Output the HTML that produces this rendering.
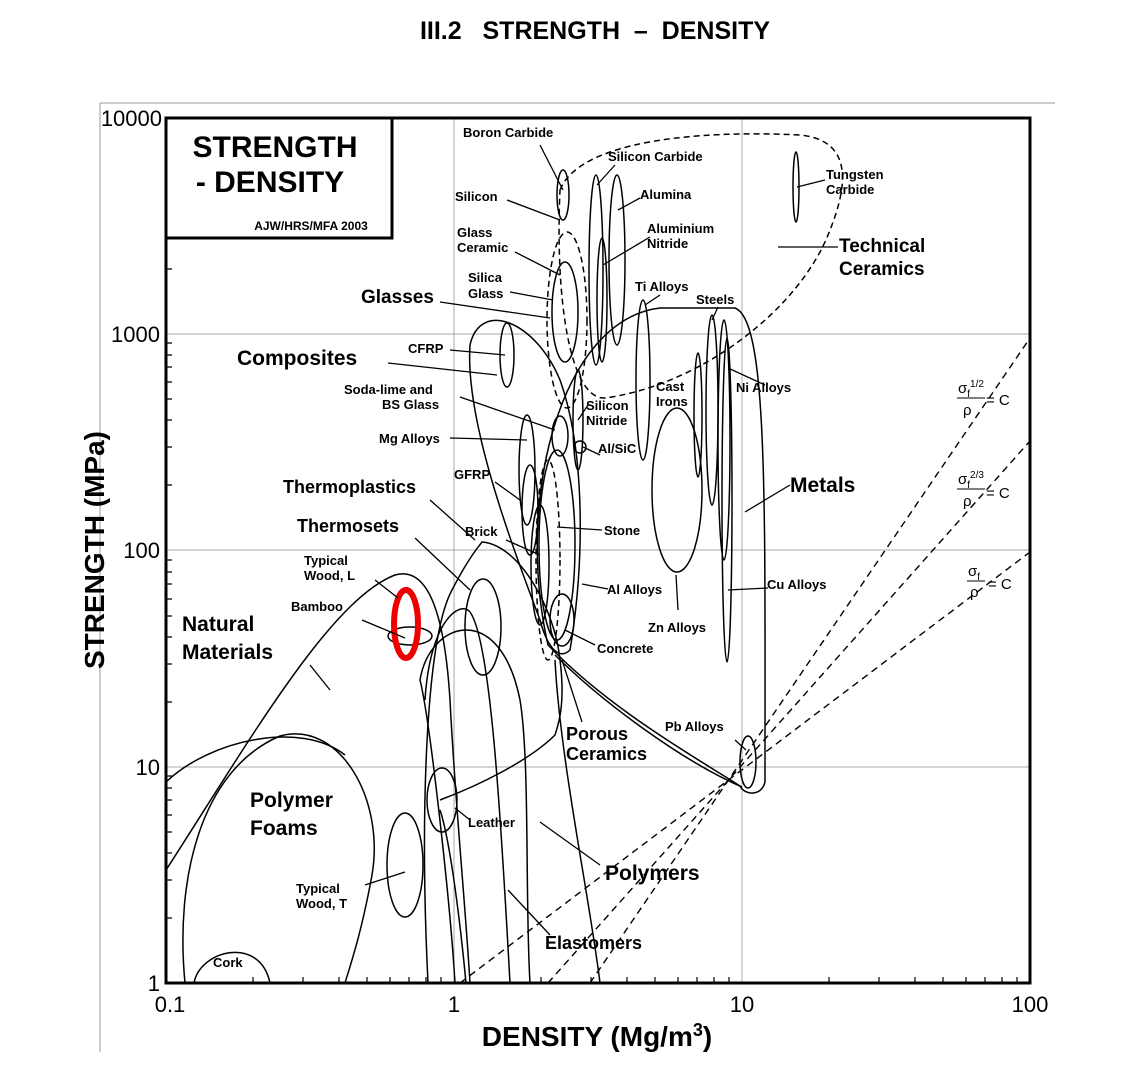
<!DOCTYPE html>
<html><head><meta charset="utf-8"><style>
html,body{margin:0;padding:0;background:#fff;}
svg{display:block;font-family:"Liberation Sans",Arial,sans-serif;}
.s{font-size:13px;font-weight:bold;}
.b{font-size:21px;font-weight:bold;}
.m{font-size:18px;font-weight:bold;}
.ax{font-size:22px;}
</style></head><body>
<svg width="1145" height="1080" viewBox="0 0 1145 1080" xmlns="http://www.w3.org/2000/svg">
<rect width="1145" height="1080" fill="#fff"/>
<text x="595" y="39" text-anchor="middle" font-size="25" font-weight="bold" style="white-space:pre" xml:space="preserve">III.2   STRENGTH  –  DENSITY</text>
<line x1="100" y1="103" x2="1055" y2="103" stroke="#999" stroke-width="1"/>
<line x1="100" y1="103" x2="100" y2="1052" stroke="#999" stroke-width="1"/>
<g stroke="#aaa" stroke-width="1">
<line x1="454" y1="118" x2="454" y2="983"/><line x1="742" y1="118" x2="742" y2="983"/>
<line x1="166" y1="334" x2="1030" y2="334"/><line x1="166" y1="550" x2="1030" y2="550"/><line x1="166" y1="767" x2="1030" y2="767"/>
</g>
<g stroke="#000" stroke-width="1.2">
<path d="M166,918h6M166,880h6M166,853h6M166,832h6M166,815h6M166,800h6M166,788h6M166,776h6
M166,702h6M166,664h6M166,637h6M166,616h6M166,599h6M166,584h6M166,572h6M166,560h6
M166,485h6M166,447h6M166,420h6M166,399h6M166,382h6M166,367h6M166,355h6M166,343h6
M166,269h6M166,231h6M166,204h6M166,183h6M166,166h6M166,151h6M166,139h6M166,127h6"/>
<path d="M253,983v-6M303,983v-6M339,983v-6M367,983v-6M390,983v-6M409,983v-6M426,983v-6M441,983v-6
M541,983v-6M591,983v-6M627,983v-6M655,983v-6M678,983v-6M697,983v-6M714,983v-6M729,983v-6
M829,983v-6M879,983v-6M915,983v-6M943,983v-6M966,983v-6M985,983v-6M1002,983v-6M1017,983v-6"/>
</g>
<g stroke="#000" stroke-width="1.4" stroke-dasharray="7,5" fill="none">
<line x1="460" y1="983" x2="1030" y2="552"/>
<line x1="548" y1="983" x2="1030" y2="441"/>
<line x1="590" y1="983" x2="1030" y2="338"/>
</g>
<g fill="none" stroke="#000" stroke-width="1.5">
<path d="M194,983 C200,950 260,935 270,983"/>
<path d="M185,983 C175,880 200,770 280,736 C340,720 385,800 372,875 C362,930 352,960 345,983"/>
<path d="M166,782 C210,740 300,720 345,755"/>
<path d="M166,870 C250,740 330,600 395,575 C430,565 445,620 450,700 C455,800 465,900 470,983"/>
<path d="M428,983 C420,820 425,640 452,590 C470,555 480,545 482,542 C520,545 555,610 560,660 C565,700 560,720 555,735 C530,760 480,785 440,800"/>
<path d="M600,983 C590,900 560,760 555,660"/>
<path d="M425,700 C430,620 460,600 470,612 C490,640 500,800 510,983"/>
<path d="M466,983 C460,920 450,840 440,810"/>
<ellipse cx="483" cy="627" rx="18" ry="48"/>
<path d="M455,983 C450,900 430,720 420,680 C430,620 500,600 520,700 C530,760 525,900 530,983" />
<ellipse cx="442" cy="800" rx="15" ry="32"/>
<ellipse cx="405" cy="865" rx="18" ry="52"/>
<ellipse cx="410" cy="636" rx="22" ry="9"/>
<path d="M470,345 C480,300 535,320 560,380 C585,450 585,560 570,650 C560,660 548,650 540,620 C510,540 465,420 470,345 Z"/>
<ellipse cx="507" cy="355" rx="7" ry="32"/>
<path d="M548,645 C515,500 560,320 660,308 L735,308 C768,320 765,500 765,782 C762,796 745,796 740,786 C700,760 610,710 548,645 Z"/>
<ellipse cx="643" cy="380" rx="7" ry="80"/>
<ellipse cx="712" cy="410" rx="6" ry="95"/>
<ellipse cx="698" cy="415" rx="4" ry="62"/>
<ellipse cx="724" cy="440" rx="6" ry="120"/>
<ellipse cx="727" cy="500" rx="5" ry="162"/>
<ellipse cx="677" cy="490" rx="25" ry="82"/>
<ellipse cx="748" cy="762" rx="8" ry="26"/>
<ellipse cx="563" cy="195" rx="6" ry="25"/>
<ellipse cx="596" cy="270" rx="7" ry="95"/>
<ellipse cx="617" cy="260" rx="8" ry="85"/>
<ellipse cx="602" cy="300" rx="5" ry="62"/>
<ellipse cx="796" cy="187" rx="3" ry="35"/>
<ellipse cx="565" cy="312" rx="13" ry="50"/>
<ellipse cx="557" cy="545" rx="18" ry="95"/>
<ellipse cx="562" cy="620" rx="12" ry="26"/>
<ellipse cx="527" cy="470" rx="8" ry="55"/>
<ellipse cx="560" cy="436" rx="8" ry="20"/>
<circle cx="580" cy="447" r="6"/>
<ellipse cx="578" cy="420" rx="5" ry="50"/>
<ellipse cx="530" cy="510" rx="8" ry="45"/>
<ellipse cx="540" cy="565" rx="9" ry="60"/>
<path d="M555,655 C600,700 680,760 742,787"/>
</g>
<g fill="none" stroke="#000" stroke-width="1.5" stroke-dasharray="6,4">
<path d="M560,190 C580,140 700,130 800,135 C850,140 850,180 830,230 C800,310 700,385 605,398 C570,400 555,300 560,190 Z"/>
<ellipse cx="567" cy="320" rx="20" ry="88"/>
<ellipse cx="548" cy="560" rx="12" ry="100"/>
</g>
<ellipse cx="406" cy="624" rx="12" ry="34" fill="none" stroke="#e00" stroke-width="6"/>
<g stroke="#000" stroke-width="1.3">
<line x1="540" y1="145" x2="563" y2="190"/><line x1="615" y1="165" x2="597" y2="185"/>
<line x1="507" y1="200" x2="560" y2="220"/><line x1="640" y1="198" x2="618" y2="210"/>
<line x1="515" y1="252" x2="560" y2="275"/><line x1="650" y1="237" x2="603" y2="265"/>
<line x1="825" y1="180" x2="797" y2="187"/><line x1="778" y1="247" x2="838" y2="247"/>
<line x1="510" y1="292" x2="553" y2="300"/><line x1="660" y1="295" x2="645" y2="305"/>
<line x1="718" y1="307" x2="712" y2="320"/><line x1="440" y1="302" x2="550" y2="318"/>
<line x1="450" y1="350" x2="505" y2="355"/><line x1="388" y1="363" x2="497" y2="375"/>
<line x1="728" y1="368" x2="765" y2="385"/><line x1="460" y1="397" x2="555" y2="430"/>
<line x1="588" y1="405" x2="578" y2="420"/><line x1="450" y1="438" x2="527" y2="440"/>
<line x1="600" y1="455" x2="583" y2="447"/><line x1="790" y1="485" x2="745" y2="512"/>
<line x1="495" y1="482" x2="520" y2="500"/><line x1="430" y1="500" x2="475" y2="540"/>
<line x1="602" y1="530" x2="557" y2="527"/><line x1="415" y1="538" x2="470" y2="590"/>
<line x1="506" y1="540" x2="540" y2="555"/><line x1="375" y1="580" x2="398" y2="598"/>
<line x1="608" y1="589" x2="582" y2="584"/><line x1="768" y1="588" x2="728" y2="590"/>
<line x1="362" y1="620" x2="405" y2="638"/><line x1="310" y1="665" x2="330" y2="690"/>
<line x1="678" y1="610" x2="676" y2="575"/><line x1="595" y1="645" x2="565" y2="630"/>
<line x1="735" y1="740" x2="746" y2="750"/><line x1="582" y1="722" x2="562" y2="660"/>
<line x1="470" y1="820" x2="455" y2="808"/><line x1="600" y1="865" x2="540" y2="822"/>
<line x1="365" y1="885" x2="405" y2="872"/><line x1="550" y1="935" x2="508" y2="890"/>
</g>
<rect x="166" y="118" width="864" height="865" fill="none" stroke="#000" stroke-width="3"/>
<rect x="166" y="118" width="226" height="120" fill="#fff" stroke="#000" stroke-width="3"/>
<text x="275" y="157" text-anchor="middle" font-size="30" font-weight="bold">STRENGTH</text>
<text x="270" y="192" text-anchor="middle" font-size="30" font-weight="bold">- DENSITY</text>
<text x="311" y="230" text-anchor="middle" font-size="12" font-weight="bold">AJW/HRS/MFA 2003</text>
<g class="ax" text-anchor="end">
<text x="162" y="126">10000</text><text x="160" y="342">1000</text><text x="160" y="558">100</text><text x="160" y="775">10</text><text x="160" y="991">1</text>
</g>
<g class="ax" text-anchor="middle">
<text x="170" y="1012">0.1</text><text x="454" y="1012">1</text><text x="742" y="1012">10</text><text x="1030" y="1012">100</text>
</g>
<text x="597" y="1046" text-anchor="middle" font-size="28" font-weight="bold">DENSITY (Mg/m<tspan font-size="18" dy="-10">3</tspan><tspan dy="10">)</tspan></text>
<text transform="translate(104,550) rotate(-90)" text-anchor="middle" font-size="28" font-weight="bold">STRENGTH (MPa)</text>
<g class="s">
<text x="463" y="137">Boron Carbide</text>
<text x="608" y="161">Silicon Carbide</text>
<text x="455" y="201">Silicon</text>
<text x="640" y="199">Alumina</text>
<text x="457" y="237">Glass</text><text x="457" y="252">Ceramic</text>
<text x="647" y="233">Aluminium</text><text x="647" y="248">Nitride</text>
<text x="826" y="179">Tungsten</text><text x="826" y="194">Carbide</text>
<text x="468" y="282">Silica</text><text x="468" y="298">Glass</text>
<text x="635" y="291">Ti Alloys</text>
<text x="696" y="304">Steels</text>
<text x="408" y="353">CFRP</text>
<text x="656" y="391">Cast</text><text x="656" y="406">Irons</text>
<text x="736" y="392">Ni Alloys</text>
<text x="344" y="394">Soda-lime and</text><text x="382" y="409">BS Glass</text>
<text x="586" y="410">Silicon</text><text x="586" y="425">Nitride</text>
<text x="379" y="443">Mg Alloys</text>
<text x="598" y="453">Al/SiC</text>
<text x="454" y="479">GFRP</text>
<text x="604" y="535">Stone</text>
<text x="465" y="536">Brick</text>
<text x="304" y="565">Typical</text><text x="304" y="580">Wood, L</text>
<text x="607" y="594">Al Alloys</text>
<text x="767" y="589">Cu Alloys</text>
<text x="291" y="611">Bamboo</text>
<text x="648" y="632">Zn Alloys</text>
<text x="597" y="653">Concrete</text>
<text x="665" y="731">Pb Alloys</text>
<text x="468" y="827">Leather</text>
<text x="296" y="893">Typical</text><text x="296" y="908">Wood, T</text>
<text x="213" y="967">Cork</text>
</g>
<g class="b">
<text x="361" y="303" font-size="19">Glasses</text>
<text x="237" y="365">Composites</text>
<text x="790" y="492">Metals</text>
<text x="182" y="631">Natural</text><text x="182" y="659">Materials</text>
<text x="250" y="807">Polymer</text><text x="250" y="835">Foams</text>
<text x="605" y="880">Polymers</text>
</g>
<g class="m">
<text x="839" y="252" font-size="19">Technical</text><text x="839" y="275" font-size="19">Ceramics</text>
<text x="283" y="493">Thermoplastics</text>
<text x="297" y="532">Thermosets</text>
<text x="566" y="740">Porous</text><text x="566" y="760">Ceramics</text>
<text x="545" y="949">Elastomers</text>
</g>
<g font-size="15">
<text x="958" y="393">σ<tspan font-size="10" dy="4">f</tspan><tspan font-size="10" dy="-10">1/2</tspan></text>
<line x1="957" y1="398" x2="985" y2="398" stroke="#000"/>
<text x="963" y="415">ρ</text><text x="986" y="405">= C</text>
<text x="958" y="484">σ<tspan font-size="10" dy="4">f</tspan><tspan font-size="10" dy="-10">2/3</tspan></text>
<line x1="957" y1="489" x2="985" y2="489" stroke="#000"/>
<text x="963" y="506">ρ</text><text x="986" y="498">= C</text>
<text x="968" y="576">σ<tspan font-size="10" dy="4">f</tspan></text>
<line x1="967" y1="581" x2="985" y2="581" stroke="#000"/>
<text x="970" y="597">ρ</text><text x="988" y="589">= C</text>
</g>
</svg>
</body></html>
